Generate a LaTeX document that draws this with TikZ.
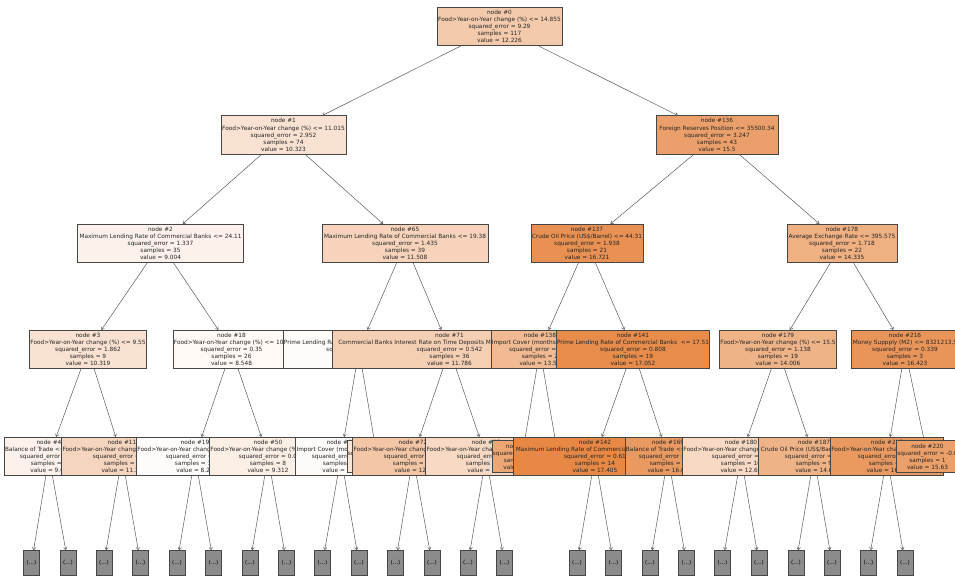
\documentclass[tikz,border=0pt]{standalone}
\usepackage{fontspec}
\setmainfont{DejaVu Sans}
\usetikzlibrary{arrows.meta}
\pgfdeclarelayer{bg}
\pgfsetlayers{bg,main}
\definecolor{tor}{RGB}{229,129,57}
\definecolor{edgec}{RGB}{70,70,70}
\definecolor{arrc}{RGB}{90,90,90}
\tikzset{
  tn/.style={draw=edgec, line width=0.6pt, rectangle, inner sep=0.8pt, align=center,
    font=\fontsize{5.8}{7.1}\selectfont, minimum height=38.5pt, text=black!85},
  tleaf/.style={tn, minimum height=32pt},
  tgrey/.style={draw=edgec, line width=0.6pt, fill=gray!90, minimum width=16pt, minimum height=25pt,
    inner sep=0pt, font=\fontsize{5.6}{7}\selectfont},
  edge/.style={draw=arrc, line width=0.5pt, -{Straight Barb[length=2.5pt,width=3.5pt]}}
}
\newcommand\TN[6]{\node[tn, fill=tor!#5!white, minimum width=#4pt] (#1) at (#2,#3) {#6};}
\newcommand\TL[6]{\node[tleaf, fill=tor!#5!white, minimum width=#4pt] (#1) at (#2,#3) {#6};}
\newcommand\TG[3]{\node[tgrey] (#1) at (#2,563) {(...)}; \begin{pgfonlayer}{bg}\draw[edge] (#3) -- (#1);\end{pgfonlayer}}
\newcommand\ED[2]{\begin{pgfonlayer}{bg}\draw[edge] (#1) -- (#2);\end{pgfonlayer}}
\begin{document}
\begin{tikzpicture}[x=1pt,y=-1pt]
\useasboundingbox (0,0) rectangle (955,577);
% level 0
\TN{n0}{499.5}{26.5}{125}{42}{node \#0\\Food>Year-on-Year change (\%) <= 14.855\\squared\_error = 9.29\\samples = 117\\value = 12.226}
% level 1
\TN{n1}{283.5}{135}{125}{23}{node \#1\\Food>Year-on-Year change (\%) <= 11.015\\squared\_error = 2.952\\samples = 74\\value = 10.323}
\TN{n136}{717}{135}{122}{75}{node \#136\\Foreign Reserves Position <= 35500.34\\squared\_error = 3.247\\samples = 43\\value = 15.5}
% level 2
\TN{n2}{160.5}{243.5}{166}{10}{node \#2\\Maximum Lending Rate of Commercial Banks <= 24.11\\squared\_error = 1.337\\samples = 35\\value = 9.004}
\TN{n65}{405}{243.5}{166}{35}{node \#65\\Maximum Lending Rate of Commercial Banks <= 19.38\\squared\_error = 1.435\\samples = 39\\value = 11.508}
\TN{n137}{587}{243.5}{111}{87}{node \#137\\Crude Oil Price (US\$/Barrel) <= 44.31\\squared\_error = 1.938\\samples = 21\\value = 16.721}
\TN{n178}{842}{243.5}{110}{63}{node \#178\\Average Exchange Rate <= 395.575\\squared\_error = 1.718\\samples = 22\\value = 14.335}
% level 3
\TN{n3}{88}{349.5}{117}{23}{node \#3\\Food>Year-on-Year change (\%) <= 9.55\\squared\_error = 1.862\\samples = 9\\value = 10.319}
\TN{n18}{231.5}{349.5}{114}{5}{node \#18\\Food>Year-on-Year change (\%) <= 10.1\\squared\_error = 0.35\\samples = 26\\value = 8.548}
\TN{n66}{359}{349.5}{152}{3}{node \#66\\Prime Lending Rate of Commercial Banks <= 17.25\\squared\_error = 0.232\\samples = 13\\value = 8.61}
\TN{n71}{449.5}{349.5}{235}{38}{node \#71\\Commercial Banks Interest Rate on Time Deposits Maturity (12 Mo) <= 6.75\\squared\_error = 0.542\\samples = 36\\value = 11.786}
\TN{n138}{540}{349.5}{94}{55}{node \#138\\Import Cover (months) <= 10.45\\squared\_error = 0.87\\samples = 2\\value = 13.55}
\TN{n141}{633}{349.5}{151}{91}{node \#141\\Prime Lending Rate of Commercial Banks \ <= 17.51\\squared\_error = 0.808\\samples = 19\\value = 17.052}
\TN{n179}{778}{349.5}{116}{60}{node \#179\\Food>Year-on-Year change (\%) <= 15.5\\squared\_error = 1.138\\samples = 19\\value = 14.006}
\TN{n216}{905}{349.5}{108}{84}{node \#216\\Money Suppply (M2) <= 8321213.5\\squared\_error = 0.339\\samples = 3\\value = 16.423}
% level 4
\TN{n4}{49}{456.5}{84}{10}{node \#4\\Balance of Trade <= -55551.5\\squared\_error = 0.6\\samples = 4\\value = 9.05}
\TN{n11}{122}{456.5}{115}{33}{node \#11\\Food>Year-on-Year change (\%) <= 10.45\\squared\_error = 0.5\\samples = 5\\value = 11.35}
\TN{n19}{195}{456.5}{115}{2}{node \#19\\Food>Year-on-Year change (\%) <= 8.85\\squared\_error = 0.1\\samples = 18\\value = 8.24}
\TN{n50}{268}{456.5}{116}{13}{node \#50\\Food>Year-on-Year change (\%) <= 9.75\\squared\_error = 0.0\\samples = 8\\value = 9.312}
\TN{n67}{341}{456.5}{90}{4}{node \#67\\Import Cover (months) <= 6.9\\squared\_error = 0.1\\samples = 8\\value = 10.2}
\TL{n70}{377}{456.5}{58}{20}{node \#70\\squared\_error = 0.0\\samples = 5\\value = 9.9}
\TN{n72}{413}{456.5}{116}{45}{node \#72\\Food>Year-on-Year change (\%) <= 12.35\\squared\_error = 0.2\\samples = 20\\value = 12.1}
\TN{n87}{486}{456.5}{118}{30}{node \#87\\Food>Year-on-Year change (\%) <= 12.65\\squared\_error = 0.3\\samples = 16\\value = 11.4}
\TL{n139}{522}{456.5}{56}{70}{node \#139\\squared\_error = 0.0\\samples = 1\\value = 14.2}
\TL{n140}{558}{456.5}{56}{70}{node \#140\\squared\_error = 0.0\\samples = 1\\value = 12.9}
\TN{n142}{595}{456.5}{164}{94}{node \#142\\Maximum Lending Rate of Commercial Banks <= 22.5\\squared\_error = 0.61\\samples = 14\\value = 17.405}
\TN{n169}{668}{456.5}{84}{80}{node \#169\\Balance of Trade <= -5321.5\\squared\_error = 0.8\\samples = 5\\value = 16.06}
\TN{n180}{741}{456.5}{116}{30}{node \#180\\Food>Year-on-Year change (\%) <= 12.2\\squared\_error = 0.4\\samples = 10\\value = 12.65}
\TN{n187}{814}{456.5}{112}{60}{node \#187\\Crude Oil Price (US\$/Barrel) <= 60.5\\squared\_error = 0.7\\samples = 9\\value = 14.6}
\TN{n217}{887}{456.5}{108}{80}{node \#217\\Food>Year-on-Year change (\%) <= 9.9\\squared\_error = 0.1\\samples = 2\\value = 16.82}
\TL{n220}{927.5}{456.5}{55}{76}{node \#220\\squared\_error = -0.0\\samples = 1\\value = 15.63}
% edges
\ED{n0}{n1}\ED{n0}{n136}
\ED{n1}{n2}\ED{n1}{n65}\ED{n136}{n137}\ED{n136}{n178}
\ED{n2}{n3}\ED{n2}{n18}\ED{n65}{n66}\ED{n65}{n71}
\ED{n137}{n138}\ED{n137}{n141}\ED{n178}{n179}\ED{n178}{n216}
\ED{n3}{n4}\ED{n3}{n11}\ED{n18}{n19}\ED{n18}{n50}
\ED{n66}{n67}\ED{n66}{n70}\ED{n71}{n72}\ED{n71}{n87}
\ED{n138}{n139}\ED{n138}{n140}\ED{n141}{n142}\ED{n141}{n169}
\ED{n179}{n180}\ED{n179}{n187}\ED{n216}{n217}\ED{n216}{n220}
% truncated subtrees
\TG{g1}{31.5}{n4}\TG{g2}{68}{n4}
\TG{g3}{104}{n11}\TG{g4}{140.5}{n11}
\TG{g5}{177}{n19}\TG{g6}{213.5}{n19}
\TG{g7}{250}{n50}\TG{g8}{286.5}{n50}
\TG{g9}{322.5}{n67}\TG{g10}{359}{n67}
\TG{g11}{395.5}{n72}\TG{g12}{432}{n72}
\TG{g13}{468}{n87}\TG{g14}{504.5}{n87}
\TG{g15}{577}{n142}\TG{g16}{613.5}{n142}
\TG{g17}{650}{n169}\TG{g18}{686.5}{n169}
\TG{g19}{722.5}{n180}\TG{g20}{759}{n180}
\TG{g21}{796}{n187}\TG{g22}{832}{n187}
\TG{g23}{868.5}{n217}\TG{g24}{905}{n217}
\end{tikzpicture}
\end{document}
